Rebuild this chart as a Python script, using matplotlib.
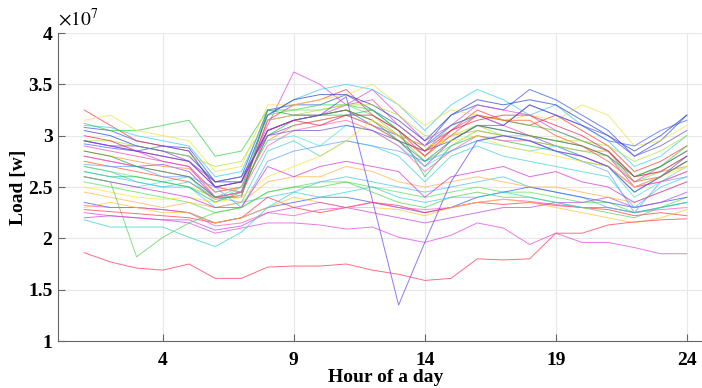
import numpy as np
import matplotlib
matplotlib.use("Agg")
import matplotlib.pyplot as plt
from matplotlib.ticker import FuncFormatter

plt.rcParams['font.family'] = ['Liberation Serif', 'DejaVu Serif']
plt.rcParams['mathtext.fontset'] = 'stix'

# hour of the day
hours = list(range(1, 25))

# daily load profiles, in units of 1e7 W
red_low = [1.86, 1.77, 1.71, 1.69, 1.75, 1.61, 1.61, 1.72, 1.73, 1.73, 1.75, 1.69,
           1.65, 1.59, 1.61, 1.80, 1.79, 1.80, 2.05, 2.05, 2.13, 2.16, 2.18, 2.19]
magenta_low = [2.25, 2.22, 2.20, 2.18, 2.15, 2.05, 2.10, 2.15, 2.15, 2.13, 2.09, 2.11,
               2.01, 1.96, 2.03, 2.15, 2.10, 1.94, 2.05, 1.96, 1.96, 1.91, 1.85, 1.85]
purple_dip = [2.95, 2.90, 2.85, 2.80, 2.75, 2.50, 2.55, 3.05, 3.15, 3.20, 3.38, 2.37,
              1.35, 1.96, 2.55, 2.95, 3.00, 2.95, 2.85, 2.80, 2.70, 2.45, 2.60, 2.80]
green_dip = [2.60, 2.55, 1.82, 2.01, 2.15, 2.25, 2.30, 2.45, 2.50, 2.50, 2.55, 2.45,
             2.35, 2.30, 2.40, 2.45, 2.40, 2.40, 2.35, 2.30, 2.25, 2.20, 2.30, 2.35]
cyan_low = [2.18, 2.11, 2.11, 2.11, 2.01, 1.92, 2.06, 2.30, 2.45, 2.40, 2.45, 2.50,
            2.40, 2.35, 2.40, 2.40, 2.45, 2.40, 2.35, 2.30, 2.30, 2.25, 2.30, 2.35]

upper = [
    [3.08, 3.05, 2.95, 2.90, 2.88, 2.55, 2.60, 3.25, 3.30, 3.30, 3.40, 3.25, 3.10, 2.90, 3.20, 3.30, 3.25, 3.45, 3.35, 3.20, 3.05, 2.80, 2.95, 3.20],
    [3.25, 3.10, 2.95, 2.90, 2.85, 2.50, 2.45, 3.15, 3.30, 3.35, 3.45, 3.20, 3.05, 2.80, 3.05, 3.25, 3.15, 3.10, 3.20, 3.05, 2.90, 2.65, 2.75, 2.90],
    [2.95, 2.90, 2.85, 2.75, 2.70, 2.45, 2.50, 3.10, 3.62, 3.50, 3.30, 3.45, 3.20, 2.95, 3.10, 3.30, 3.25, 3.20, 3.05, 2.95, 2.85, 2.55, 2.70, 2.85],
    [3.10, 3.08, 3.00, 2.95, 2.90, 2.60, 2.65, 3.20, 3.35, 3.45, 3.50, 3.45, 3.30, 3.05, 3.30, 3.45, 3.35, 3.20, 3.30, 3.10, 2.95, 2.70, 2.80, 3.00],
    [3.12, 3.05, 3.05, 3.10, 3.15, 2.80, 2.85, 3.25, 3.25, 3.30, 3.30, 3.25, 3.05, 2.85, 3.10, 3.20, 3.15, 3.10, 3.05, 2.95, 2.85, 2.60, 2.70, 2.90],
    [3.15, 3.20, 3.05, 3.00, 2.95, 2.65, 2.70, 3.30, 3.30, 3.35, 3.40, 3.50, 3.30, 3.10, 3.25, 3.20, 3.15, 3.20, 3.15, 3.30, 3.20, 2.90, 2.95, 3.10],
    [2.92, 2.88, 2.85, 2.90, 2.85, 2.50, 2.55, 3.05, 3.15, 3.20, 3.25, 3.10, 3.00, 2.90, 3.10, 3.20, 3.10, 3.30, 3.20, 3.10, 2.95, 2.90, 3.05, 3.15],
    [2.80, 2.75, 2.70, 2.72, 2.65, 2.40, 2.45, 3.00, 3.10, 3.15, 3.20, 3.10, 2.95, 2.70, 2.95, 3.10, 3.05, 3.00, 2.90, 2.80, 2.70, 2.50, 2.60, 2.75],
    [2.85, 2.80, 2.75, 2.70, 2.68, 2.45, 2.50, 2.95, 3.10, 3.15, 3.20, 3.10, 2.95, 2.85, 3.00, 3.05, 3.00, 2.95, 2.90, 2.85, 2.85, 2.60, 2.65, 2.70],
    [2.70, 2.65, 2.60, 2.55, 2.50, 2.40, 2.50, 3.20, 3.25, 3.25, 3.30, 3.20, 3.00, 2.75, 2.90, 3.05, 3.00, 2.95, 2.90, 2.85, 2.80, 2.55, 2.65, 2.80],
    [2.60, 2.55, 2.50, 2.55, 2.60, 2.35, 2.50, 2.95, 3.00, 2.90, 3.10, 3.05, 2.90, 2.70, 2.85, 2.95, 2.90, 2.85, 2.90, 2.80, 2.70, 2.40, 2.55, 2.70],
    [2.75, 2.70, 2.65, 2.60, 2.55, 2.38, 2.42, 3.05, 3.15, 3.20, 3.25, 3.15, 3.00, 2.80, 3.00, 3.20, 3.15, 3.15, 3.00, 2.90, 2.75, 2.55, 2.60, 2.75],
    [2.90, 2.85, 2.80, 2.75, 2.70, 2.40, 2.45, 3.15, 3.20, 3.20, 3.30, 3.35, 3.10, 2.90, 3.05, 3.20, 3.10, 3.00, 2.95, 2.90, 2.80, 2.50, 2.55, 2.65],
    [3.05, 3.00, 2.90, 2.85, 2.80, 2.55, 2.55, 3.20, 3.35, 3.40, 3.40, 3.30, 3.15, 2.95, 3.20, 3.35, 3.30, 3.35, 3.30, 3.15, 3.00, 2.85, 3.00, 3.20],
    [2.65, 2.60, 2.60, 2.55, 2.50, 2.35, 2.45, 3.00, 3.15, 3.20, 3.20, 3.25, 3.05, 2.60, 2.90, 3.00, 2.95, 2.90, 2.85, 2.75, 2.70, 2.45, 2.60, 2.75],
    [2.95, 2.95, 2.90, 2.85, 2.80, 2.70, 2.75, 3.15, 3.20, 3.25, 3.30, 3.30, 3.20, 3.00, 3.00, 3.10, 3.00, 3.00, 2.95, 2.95, 2.90, 2.75, 2.85, 3.00],
    [2.80, 2.75, 2.70, 2.65, 2.60, 2.40, 2.45, 2.90, 3.05, 3.10, 3.15, 3.05, 2.90, 2.65, 2.85, 3.00, 2.95, 2.95, 2.85, 2.80, 2.70, 2.50, 2.55, 2.65],
    [2.65, 2.60, 2.55, 2.50, 2.55, 2.40, 2.35, 2.85, 2.95, 2.80, 2.95, 2.90, 2.80, 2.55, 2.80, 2.90, 2.80, 2.75, 2.70, 2.65, 2.60, 2.30, 2.50, 2.60],
    [2.95, 2.90, 2.90, 2.85, 2.75, 2.55, 2.60, 3.00, 3.05, 3.05, 3.10, 3.05, 2.95, 2.85, 2.95, 3.10, 3.10, 3.30, 3.20, 3.10, 3.00, 2.80, 2.90, 3.05],
    [3.00, 2.95, 2.85, 2.80, 2.75, 2.50, 2.55, 3.05, 3.15, 3.10, 3.20, 3.20, 3.05, 2.85, 3.05, 3.15, 3.20, 3.20, 3.10, 3.00, 2.85, 2.60, 2.65, 2.80],
    [2.72, 2.70, 2.70, 2.60, 2.60, 2.50, 2.30, 2.75, 2.85, 2.90, 2.95, 2.90, 2.85, 2.75, 2.85, 2.95, 3.00, 2.95, 2.85, 2.75, 2.65, 2.25, 2.55, 2.60],
    [2.85, 2.80, 2.70, 2.65, 2.60, 2.40, 2.40, 3.25, 3.20, 3.20, 3.25, 3.15, 2.95, 2.75, 2.95, 3.10, 3.05, 3.00, 2.95, 2.90, 2.80, 2.60, 2.70, 2.85],
    [2.50, 2.45, 2.40, 2.38, 2.40, 2.35, 2.40, 2.60, 2.70, 2.80, 2.95, 3.15, 3.00, 2.90, 2.95, 3.00, 2.90, 2.85, 2.80, 2.75, 2.70, 2.50, 2.60, 2.70],
    [2.45, 2.40, 2.35, 2.30, 2.35, 2.30, 2.35, 2.55, 2.60, 2.60, 2.70, 2.65, 2.55, 2.50, 2.55, 2.60, 2.55, 2.50, 2.50, 2.45, 2.40, 2.35, 2.45, 2.55],
    [2.60, 2.55, 2.50, 2.45, 2.40, 2.30, 2.30, 2.70, 2.60, 2.70, 2.75, 2.70, 2.65, 2.40, 2.60, 2.65, 2.70, 2.60, 2.65, 2.55, 2.50, 2.35, 2.45, 2.55],
]
upper_colors = ['#3050e0', '#ff3030', '#e040e0', '#30c8f0', '#30d040', '#f0e040',
                '#4060ff', '#9040e0', '#ff9020', '#60e060', '#50e0e0', '#ff5020',
                '#f040b0', '#2040c0', '#20c060', '#b0e030', '#ff60a0', '#40d0d0',
                '#6050d0', '#e02050', '#60a0ff', '#20a040', '#ffe030', '#ffb040',
                '#d030d0']

middle = [
    [2.55, 2.50, 2.45, 2.40, 2.35, 2.25, 2.30, 2.45, 2.50, 2.55, 2.55, 2.50, 2.45, 2.40, 2.45, 2.50, 2.45, 2.45, 2.40, 2.35, 2.35, 2.25, 2.30, 2.40],
    [2.70, 2.65, 2.55, 2.50, 2.50, 2.30, 2.35, 2.40, 2.45, 2.55, 2.60, 2.55, 2.50, 2.45, 2.50, 2.55, 2.60, 2.50, 2.45, 2.40, 2.30, 2.25, 2.30, 2.35],
    [2.35, 2.30, 2.30, 2.28, 2.25, 2.15, 2.20, 2.30, 2.35, 2.40, 2.40, 2.35, 2.30, 2.25, 2.30, 2.40, 2.45, 2.50, 2.45, 2.40, 2.35, 2.30, 2.35, 2.40],
    [2.28, 2.26, 2.24, 2.22, 2.20, 2.15, 2.20, 2.40, 2.30, 2.25, 2.30, 2.35, 2.32, 2.25, 2.30, 2.35, 2.33, 2.35, 2.32, 2.30, 2.28, 2.22, 2.25, 2.22],
    [2.32, 2.30, 2.30, 2.28, 2.25, 2.12, 2.15, 2.25, 2.22, 2.28, 2.30, 2.35, 2.30, 2.28, 2.30, 2.35, 2.38, 2.36, 2.33, 2.30, 2.30, 2.25, 2.28, 2.30],
    [2.30, 2.35, 2.30, 2.25, 2.25, 2.15, 2.20, 2.30, 2.40, 2.35, 2.30, 2.30, 2.28, 2.22, 2.30, 2.35, 2.38, 2.35, 2.30, 2.25, 2.20, 2.15, 2.20, 2.28],
    [2.20, 2.22, 2.20, 2.18, 2.18, 2.08, 2.12, 2.25, 2.30, 2.35, 2.30, 2.25, 2.20, 2.15, 2.20, 2.25, 2.30, 2.30, 2.35, 2.35, 2.40, 2.30, 2.35, 2.45],
]
middle_colors = ['#50e050', '#40c0f0', '#4050f0', '#ff3040', '#ff50c0', '#ffc030', '#c040e0']

special = [red_low, magenta_low, purple_dip, green_dip, cyan_low]
special_colors = ['#ff3050', '#e040e0', '#6040f0', '#50d050', '#30d0d0']

y_ticks = [1, 1.5, 2, 2.5, 3, 3.5, 4]
x_ticks = [4, 9, 14, 19, 24]

fig = plt.figure(figsize=(7.02, 3.88), dpi=100)
ax = fig.add_axes([58 / 702, 47 / 388, 655 / 702, 308 / 388])

for rows, cols in [(middle, middle_colors), (upper, upper_colors), (special, special_colors)]:
    for vals, c in zip(rows, cols):
        ax.plot(hours, np.array(vals) * 1e7, color=c, lw=0.7, alpha=0.7)

ax.set_xlim(0, 25)
ax.set_ylim(1e7, 4e7)
ax.set_xticks(x_ticks)
ax.set_yticks([v * 1e7 for v in y_ticks])
ax.yaxis.set_major_formatter(FuncFormatter(lambda v, p: f'{v / 1e7:g}'))
ax.text(0, 1.01, r'$\times 10^{7}$', transform=ax.transAxes, fontsize=14,
        ha='left', va='bottom')

ax.grid(True, color='#e8e8e8', lw=0.8)
ax.set_axisbelow(True)
for s in ['top', 'right']:
    ax.spines[s].set_visible(False)
for s in ['left', 'bottom']:
    ax.spines[s].set_color('#666666')
ax.tick_params(direction='in', length=5, color='#666666', labelsize=14)
ax.tick_params(axis='x', pad=8)
ax.tick_params(axis='y', pad=4)
for lab in ax.get_xticklabels() + ax.get_yticklabels():
    lab.set_fontweight('bold')

ax.set_xlabel('Hour of a day', fontsize=14, fontweight='bold', labelpad=0)
ax.set_ylabel('Load [w]', fontsize=14, fontweight='bold', labelpad=1)

fig.savefig('out.png', dpi=100)
